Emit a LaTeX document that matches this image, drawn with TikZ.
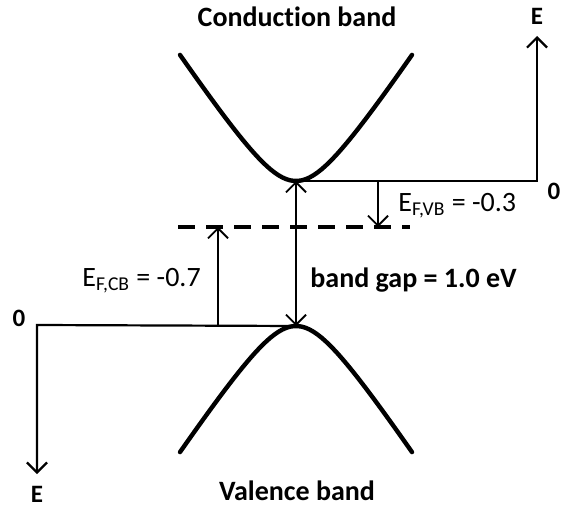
\documentclass[tikz,border=0pt]{standalone}
\usepackage{fontspec}
\setmainfont{Carlito}[Ligatures=NoCommon]
\usetikzlibrary{arrows.meta}

\begin{document}
\begin{tikzpicture}[
  x=0.5pt, y=-0.5pt,
  font=\fontsize{11.5}{13}\selectfont,
  >={Straight Barb[length=5pt, width=10pt]},
  band/.style={line width=2.2pt, line cap=round},
  axis/.style={line width=1.1pt},
  level/.style={line width=1.6pt, dash pattern=on 8.5pt off 5.5pt},
  arrow/.style={line width=0.9pt},
  title/.style={font=\fontsize{14}{16}\selectfont\bfseries},
  lbl/.style={font=\fontsize{12.5}{14}\selectfont\bfseries},
  fermi/.style={font=\fontsize{14}{16}\selectfont, anchor=west, inner sep=0pt}
]
\useasboundingbox (0,0) rectangle (566,507);

% Band extremes and axis origins
\coordinate (cbm) at (296,181);
\coordinate (vbm) at (296,326);
\coordinate (orig-r) at (537,181);
\coordinate (orig-l) at (37,325);
\coordinate (tip-r) at (537,36);
\coordinate (tip-l) at (37,474);

% Conduction band and valence band
\draw[band] plot[domain=-116:116, samples=60] ({296+\x}, {181-1.5*(sqrt(38*38+\x*\x)-38)});
\draw[band] plot[domain=-116:116, samples=60] ({296+\x}, {326+1.5*(sqrt(38*38+\x*\x)-38)});

\node[title] (cb) at (297,17) {Conduction band};
\node[title] (vb) at (297,491) {Valence band};

% Energy axes
\draw[axis, ->] (cbm) -- (orig-r) -- (tip-r);
\draw[axis, ->] (vbm) -- (orig-l) -- (tip-l);
\node[lbl] (e-r) at (537,16) {E};
\node[lbl] (zero-r) at (554,191) {0};
\node[lbl] (e-l) at (37,494) {E};
\node[lbl] (zero-l) at (19,318) {0};

% Fermi level
\coordinate (ef-l) at (178,227);
\coordinate (ef-r) at (410,227);
\draw[level] (ef-l) -- (ef-r);

% Fermi level arrows
\coordinate (vb-a) at (378,181);
\coordinate (cb-a) at (218,325);
\draw[arrow, ->] (vb-a) -- (vb-a |- ef-l);
\draw[arrow, ->] (cb-a) -- (cb-a |- ef-l);
\draw[arrow, <->] (cbm) -- (vbm);

\node[fermi] (ef-vb) at (398,206) {E\textsubscript{F,VB} = -0.3};
\node[fermi] (ef-cb) at (82,281) {E\textsubscript{F,CB} = -0.7};
\node[lbl, font=\fontsize{14}{16}\selectfont\bfseries, anchor=west, inner sep=0pt] (gap) at (310,280) {band gap = 1.0 eV};

\end{tikzpicture}
\end{document}
